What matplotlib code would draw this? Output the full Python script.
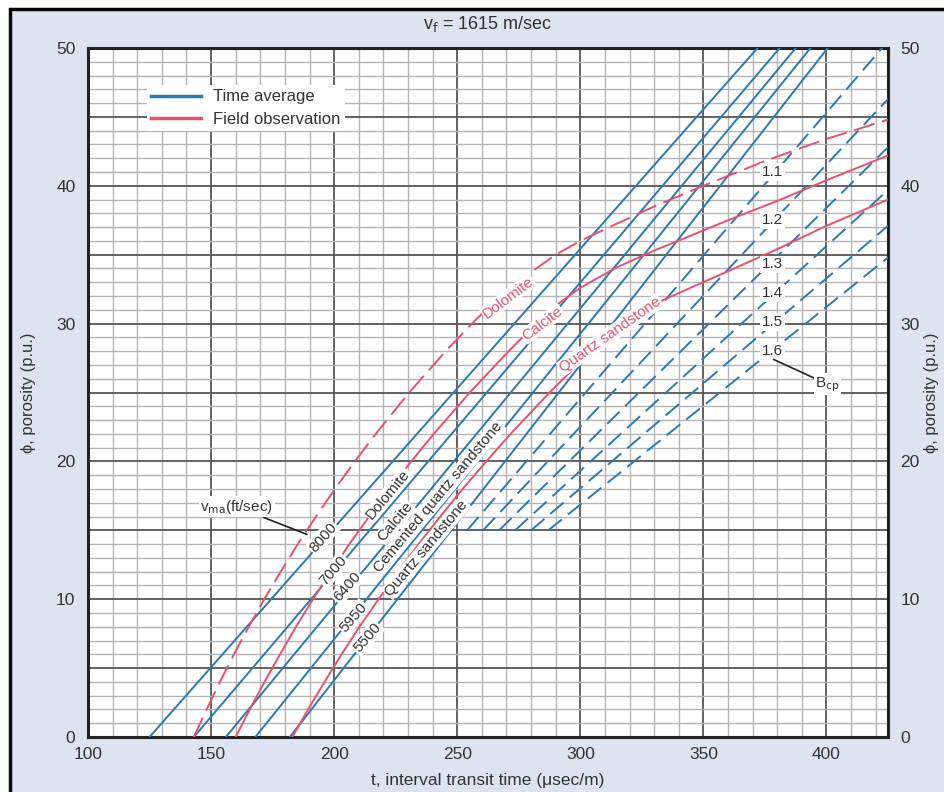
import numpy as np
import matplotlib
matplotlib.use("Agg")
import matplotlib.pyplot as plt
from matplotlib.patches import Rectangle
from matplotlib.ticker import FuncFormatter

plt.rcParams['font.family'] = ['Liberation Sans', 'DejaVu Sans']

# time average lines: matrix velocity label, t at phi=0, t at phi=50
vma_labels = ["8000", "7000", "6400", "5950", "5500"]
ta_start = [125, 143, 156, 168, 182]
ta_end = [372, 381, 387.5, 393.5, 400.5]
vma_label_x = [195.5, 199.6, 205.3, 207.7, 213.4]
vma_label_y = [14.5, 12.1, 10.9, 8.7, 7.2]

# rock names next to the time average lines
rock_names = ["Dolomite", "Calcite", "Cemented quartz sandstone", "Quartz sandstone"]
rock_x = [222.0, 224.8, 242.3, 237.4]
rock_y = [17.6, 15.6, 17.4, 13.7]

# field observation curves
dol_t = [143, 148.2, 153.6, 159.3, 165.3, 171.6, 178.3, 185.2, 192.6, 200.3, 208.4, 216.9,
         230.5, 245.3, 256, 265, 275, 290, 300, 313, 330, 350, 375, 400, 425]
dol_phi = [0, 2, 4, 6, 8, 10, 12, 14, 16, 18, 20, 22,
           25, 28, 30, 31.6, 33.1, 35.0, 36.0, 37.1, 38.5, 40.0, 41.8, 43.4, 44.8]
cal_t = [160, 165.7, 171.7, 178.0, 184.5, 191.4, 198.7, 206.2, 214.2, 222.6, 231.3, 240.5,
         255.1, 270.9, 282, 290, 300, 315, 330, 341, 360, 380, 400, 425]
cal_phi = [0, 2, 4, 6, 8, 10, 12, 14, 16, 18, 20, 22,
           25, 28, 30, 31.3, 32.6, 34.1, 35.3, 36.1, 37.5, 38.9, 40.4, 42.2]
qtz_t = [183, 189.4, 196.1, 203.0, 210.3, 218.0, 226.0, 234.3, 243.1, 252.2, 261.8, 271.7,
         287.5, 304.4, 316, 325, 341, 360, 380, 400, 425]
qtz_phi = [0, 2, 4, 6, 8, 10, 12, 14, 16, 18, 20, 22,
           25, 28, 30, 31.0, 32.3, 33.8, 35.4, 37.1, 39.0]

# compaction corrected lines (dashed), start at phi=15, end at right edge
bcp = ["1.1", "1.2", "1.3", "1.4", "1.5", "1.6"]
bcp_t0 = [254, 260.5, 267, 273.5, 280, 287]
bcp_phi1 = [50.5, 46.3, 42.8, 39.7, 37.1, 34.8]
bcp_label_y = [41.0, 37.5, 34.3, 32.2, 30.1, 28.0]

blue = '#2a78b5'
red = '#e8516b'
txt = '#333333'
white_box = dict(boxstyle='square,pad=0.06', fc='white', ec='none')

fig = plt.figure(figsize=(9.45, 7.92), dpi=100)
fig.patch.set_facecolor('white')
fig.patches.append(Rectangle((0.0106, -0.05), 1.1, 0.9886 + 0.05, transform=fig.transFigure,
                             facecolor='#dde3f0', edgecolor='black', linewidth=2.5, zorder=-10))
ax = fig.add_axes([0.0931, 0.0694, 0.8466, 0.87])
ax.set_facecolor('white')
ax.set_xlim(100, 425)
ax.set_ylim(0, 50)

# grid
ax.set_xticks(np.arange(100, 401, 50))
ax.set_xticks(np.arange(100, 426, 10), minor=True)
ax.set_yticks(np.arange(0, 51, 5))
ax.set_yticks(np.arange(0, 51, 1), minor=True)
ax.yaxis.set_major_formatter(FuncFormatter(lambda v, p: '%d' % v if v % 10 == 0 else ''))
ax.grid(which='minor', color='#b4b4b4', linewidth=1.0, zorder=0)
ax.grid(which='major', color='#555555', linewidth=1.3, zorder=0)
ax.set_axisbelow(True)
ax.tick_params(which='both', length=0, labelsize=12.5, colors=txt, pad=7)
ax.tick_params(axis='y', labelright=True, pad=9)
for s in ax.spines.values():
    s.set_linewidth(2.2)
    s.set_color('#222222')

# time average lines
for i in range(len(ta_start)):
    ax.plot([ta_start[i], ta_end[i]], [0, 50], color=blue, lw=1.4, zorder=3,
            label='Time average' if i == 0 else None)
    ax.text(vma_label_x[i], vma_label_y[i], vma_labels[i], rotation=49, ha='center', va='center',
            fontsize=11, color=txt, zorder=6,
            bbox=dict(boxstyle='square,pad=0.08', fc='white', ec='none'))

for i in range(len(rock_names)):
    ax.text(rock_x[i], rock_y[i], rock_names[i], rotation=50, ha='center', va='center',
            fontsize=11, color=txt, zorder=6, bbox=white_box)

# compaction corrected lines
for i in range(len(bcp)):
    ax.plot([bcp_t0[i], 425], [15, bcp_phi1[i]], color=blue, lw=1.4, zorder=3, dashes=(9, 4))
    ax.text(378, bcp_label_y[i], bcp[i], ha='center', va='center', fontsize=11, color=txt,
            zorder=6, bbox=dict(boxstyle='square,pad=0.12', fc='white', ec='none'))

# field observation curves
ax.plot(dol_t, dol_phi, color=red, lw=1.4, zorder=4, dashes=(11, 4))
ax.plot(cal_t, cal_phi, color=red, lw=1.4, zorder=4, label='Field observation')
ax.plot(qtz_t, qtz_phi, color=red, lw=1.4, zorder=4)
ax.text(270.7, 31.9, 'Dolomite', rotation=37, ha='center', va='center', fontsize=11, color=red,
        zorder=6, bbox=white_box)
ax.text(284.6, 30.0, 'Calcite', rotation=37, ha='center', va='center', fontsize=11, color=red,
        zorder=6, bbox=white_box)
ax.text(312.2, 29.2, 'Quartz sandstone', rotation=35, ha='center', va='center', fontsize=11,
        color=red, zorder=6, bbox=white_box)

# annotations
ax.annotate('v$_{\\rm ma}$(ft/sec)', xy=(189, 14.7), xytext=(175.2, 16.7), ha='right', va='center',
            fontsize=11, color=txt, zorder=7,
            bbox=dict(boxstyle='square,pad=0.1', fc='white', ec='none'),
            arrowprops=dict(arrowstyle='-', color='#222222', lw=1.2, shrinkA=0, shrinkB=0))
ax.annotate('B$_{\\rm cp}$', xy=(378.5, 27.4), xytext=(395.5, 25.6), ha='left', va='center',
            fontsize=11, color=txt, zorder=7,
            bbox=dict(boxstyle='square,pad=0.1', fc='white', ec='none'),
            arrowprops=dict(arrowstyle='-', color='#222222', lw=1.2, shrinkA=0, shrinkB=0))

leg = ax.legend(loc='upper left', bbox_to_anchor=(0.074, 0.946), frameon=True, fontsize=12,
                handlelength=3.0, handletextpad=0.7, borderpad=0.25, labelspacing=0.45,
                borderaxespad=0)
leg.get_frame().set_facecolor('white')
leg.get_frame().set_edgecolor('none')
leg.get_frame().set_alpha(1)
leg.get_frame().set_boxstyle('square', pad=0)
for h in leg.get_lines():
    h.set_linewidth(2.5)
for t in leg.get_texts():
    t.set_color(txt)
leg.set_zorder(8)

ax.set_title('v$_{\\rm f}$ = 1615 m/sec', fontsize=13, color=txt, pad=14)
ax.set_xlabel('t, interval transit time (\u03bcsec/m)', fontsize=12.5, color=txt, labelpad=8)
ax.set_ylabel('\u03d5, porosity (p.u.)', fontsize=12, color=txt)
ax.yaxis.set_label_coords(-0.065, 0.5)
fig.text(0.986, 0.0694 + 0.435, '\u03d5, porosity (p.u.)', rotation=90, ha='center', va='center',
         fontsize=12, color=txt)

fig.savefig('out.png', dpi=100, facecolor=fig.get_facecolor())
